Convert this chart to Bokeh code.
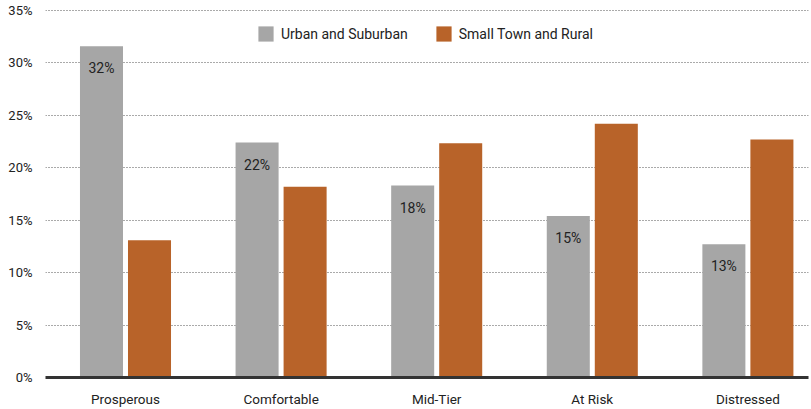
from bokeh.plotting import figure
from bokeh.models import (ColumnDataSource, Legend, LegendItem, FixedTicker,
                          PrintfTickFormatter, Range1d, LabelSet)
from bokeh.core.properties import value
from bokeh.transform import dodge
from bokeh.embed import file_html
from bokeh.resources import INLINE

categories = ["Prosperous", "Comfortable", "Mid-Tier", "At Risk", "Distressed"]
urban = [31.6, 22.4, 18.3, 15.4, 12.7]
rural = [13.1, 18.2, 22.35, 24.2, 22.7]
y_ticks = [0, 5, 10, 15, 20, 25, 30, 35]
series_names = ["Urban and Suburban", "Small Town and Rural"]
colors = ["#a6a6a6", "#b86329"]

FONT = "Roboto"
TEXT = "#222222"

src = ColumnDataSource(dict(
    x=list(range(len(categories))),
    urban=urban,
    rural=rural,
    ulabel=[f"{round(v)}%" for v in urban],
))

p = figure(width=811, height=409, output_backend="svg", toolbar_location=None,
           x_range=Range1d(-0.5141, 4.3895), y_range=Range1d(0, 35.951),
           min_border_left=45, min_border_right=3, min_border_top=0,
           min_border_bottom=31)
p.outline_line_color = None
p.background_fill_color = "white"

off = 0.1543
bw = 0.2765
r1 = p.vbar(x=dodge("x", -off), top="urban", width=bw, bottom=0, source=src,
            fill_color=colors[0], line_color=None)
r2 = p.vbar(x=dodge("x", off), top="rural", width=bw, bottom=0, source=src,
            fill_color=colors[1], line_color=None)

labels = LabelSet(x=dodge("x", -off), y="urban", text="ulabel", source=src,
                  text_align="center", text_baseline="top", y_offset=-14,
                  text_font=value(FONT), text_font_size=value("14px"),
                  text_color=TEXT)
p.add_layout(labels)

# axes
p.xaxis.ticker = FixedTicker(ticks=list(range(len(categories))))
p.xaxis.major_label_overrides = {i: c for i, c in enumerate(categories)}
p.xaxis.axis_line_width = 3
p.xaxis.axis_line_color = "#333333"
p.xaxis.major_tick_line_color = None
p.xaxis.minor_tick_line_color = None
p.xaxis.major_tick_out = 0
p.xaxis.major_tick_in = 0
p.xaxis.minor_tick_out = 0
p.xaxis.minor_tick_in = 0
p.xaxis.major_label_standoff = 13
p.xaxis.major_label_text_font = FONT
p.xaxis.major_label_text_font_size = "13.5px"
p.xaxis.major_label_text_color = TEXT

p.yaxis.ticker = FixedTicker(ticks=y_ticks)
p.yaxis.formatter = PrintfTickFormatter(format="%d%%")
p.yaxis.axis_line_color = None
p.yaxis.major_tick_line_color = None
p.yaxis.minor_tick_line_color = None
p.yaxis.major_tick_out = 0
p.yaxis.major_tick_in = 0
p.yaxis.minor_tick_out = 0
p.yaxis.minor_tick_in = 0
p.yaxis.major_label_standoff = 13
p.yaxis.major_label_text_font = FONT
p.yaxis.major_label_text_font_size = "13px"
p.yaxis.major_label_text_color = TEXT

p.xgrid.grid_line_color = None
p.ygrid.ticker = FixedTicker(ticks=y_ticks[1:])
p.ygrid.grid_line_color = "#555555"
p.ygrid.grid_line_dash = "1 2"
p.ygrid.grid_line_width = 1

legend = Legend(items=[LegendItem(label=series_names[0], renderers=[r1]),
                       LegendItem(label=series_names[1], renderers=[r2])],
                orientation="horizontal", location=(211, 334),
                padding=0, margin=0, spacing=26, label_standoff=6,
                glyph_width=19, glyph_height=19, label_height=19,
                border_line_color=None, background_fill_alpha=0,
                label_text_font=FONT, label_text_font_size="14px",
                label_text_color=TEXT, label_text_baseline="middle")
p.add_layout(legend)

open("out.html", "w").write(file_html(p, INLINE))
